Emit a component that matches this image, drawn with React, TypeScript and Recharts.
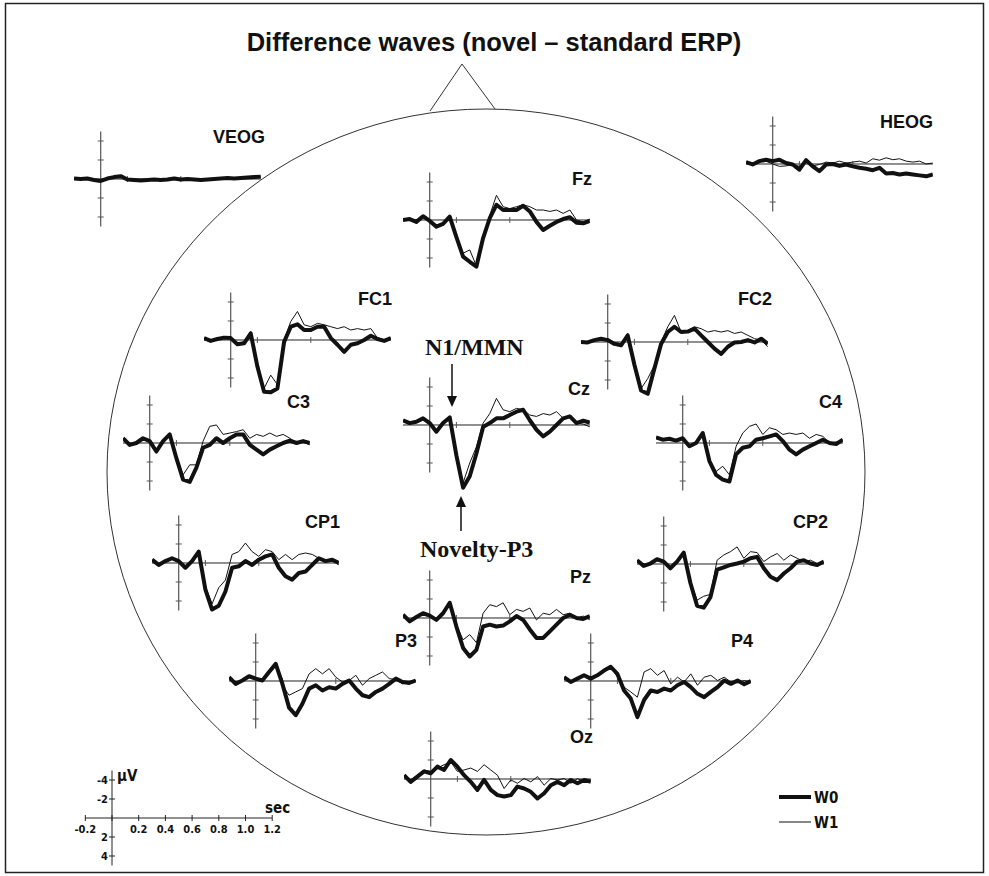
import React from "react";
import { LineChart, Line, XAxis, YAxis, ReferenceLine } from "recharts";

// time base in seconds, one sample every 50 ms
const TIME = [-0.2, -0.15, -0.1, -0.05, 0, 0.05, 0.1, 0.15, 0.2, 0.25, 0.3, 0.35, 0.4, 0.45, 0.5, 0.55, 0.6, 0.65, 0.7, 0.75, 0.8, 0.85, 0.9, 0.95, 1.0, 1.05, 1.1, 1.15, 1.2];

// amplitudes in µV (negative plotted up)
const VEOG_W0 = [-0.05, 0, -0.05, 0.1, 0.2, -0.05, -0.2, -0.3, 0.05, 0.1, 0.15, 0.1, 0.05, 0.1, 0.05, -0.05, 0.05, 0, 0.05, 0.1, 0.05, 0, -0.05, -0.1, -0.05, -0.1, -0.15, -0.2, -0.25];
const VEOG_W1 = [0, 0.05, -0.05, 0.05, 0.15, 0, -0.15, -0.25, 0, 0.1, 0.1, 0.15, 0, 0.05, 0.1, 0, 0, 0.05, 0, 0.05, 0.1, 0, 0, -0.05, -0.1, -0.05, -0.1, -0.15, -0.2];
const HEOG_W0 = [-0.2, 0.05, -0.3, -0.45, -0.3, -0.45, -0.1, 0.05, 0.6, -0.4, 0.25, 0.75, 0.05, 0, 0.2, 0.05, 0.25, 0.4, 0.5, 0.65, 0.4, 1, 0.95, 1.1, 1, 1.1, 1.2, 1.3, 1.1];
const HEOG_W1 = [-0.2, 0, -0.25, -0.3, 0, 0.25, 0.2, 0.05, 0.25, -0.3, 0.2, 0.05, -0.2, -0.1, -0.3, -0.1, -0.2, -0.3, -0.1, -0.55, -0.4, -0.65, -0.45, -0.55, -0.3, -0.2, -0.3, 0, -0.1];
const FZ_W0 = [0, -0.1, 0.2, -0.4, 0.1, 0.7, 0.4, -0.35, 1.8, 3.85, 4.4, 4.9, 1.9, -0.2, -1.6, -1.05, -1.05, -1.05, -1.5, -0.9, 0.2, 1.05, 0.6, 0.2, -0.1, -0.3, 0.3, 0.35, 0.1];
const FZ_W1 = [0.05, -0.15, 0.15, -0.35, 0.05, 0.6, 0.35, -0.4, 1.6, 3.5, 3.15, 4.85, 1.75, -0.5, -2.6, -1.4, -1.2, -1.4, -1.6, -1.4, -1.05, -1.05, -0.9, -1.05, -0.7, -1.05, 0, 0.2, -0.1];
const FC1_W0 = [-0.2, 0.1, -0.1, -0.25, -0.2, 0.45, 0.35, -0.7, 2.8, 5.45, 5.5, 5.1, 0.2, -1.4, -1.65, -1.05, -1.05, -1.4, -1.4, -0.2, 0.5, 1.25, 0.5, 0.35, 0, -0.45, -0.1, 0.1, -0.2];
const FC1_W1 = [-0.2, 0.05, -0.2, -0.2, -0.25, 0.35, 0.2, -0.9, 2.5, 5.1, 3.7, 4.7, 0, -1.95, -3, -1.6, -1.4, -1.75, -1.6, -1.4, -1.2, -1.4, -1.05, -1.2, -1.05, -1.2, -0.2, 0, -0.2];
const FC2_W0 = [0, 0.05, -0.2, -0.35, -0.2, 0.2, 0.35, -0.7, 2.4, 5.1, 5.45, 2.8, 0.2, -1.05, -1.6, -1.05, -1.1, -1.4, -0.7, 0, 0.7, 1.25, 0.5, 0.05, 0, -0.2, 0.05, -0.35, 0.2];
const FC2_W1 = [-0.05, 0, -0.25, -0.3, -0.35, 0.05, 0.2, -0.9, 2.2, 4.9, 3.85, 2.45, 0, -1.6, -2.8, -1.05, -1.2, -1.6, -1.4, -1.05, -1.2, -1.05, -1.2, -0.9, -1.05, -0.7, -0.35, -0.2, 0.5];
const C3_W0 = [-0.5, 0.2, 0, -0.5, -0.2, 0.9, -0.2, -0.9, 1.6, 3.85, 4.1, 2.6, 0.5, 0.2, -0.5, 0, -0.5, -0.9, -0.9, 0.2, 0.7, 1.2, 0.7, 0.35, 0, -0.25, 0, -0.2, 0];
const C3_W1 = [-0.45, 0.15, 0.05, -0.45, -0.25, 0.8, -0.25, -1, 1.4, 3.35, 2.3, 2.3, -0.2, -1.75, -1.9, -0.9, -1.05, -1.2, -1.4, -0.5, -0.9, -0.7, -1.05, -0.7, -0.9, -0.5, 0, -0.1, 0.2];
const CZ_W0 = [-0.5, -0.2, -0.35, -0.7, -0.2, 0.7, -0.2, -0.8, 3.2, 6.6, 5.4, 3.0, 0.2, -0.2, -0.7, -0.7, -1.05, -1.4, -1.6, -0.5, 0.5, 1.2, 0.7, 0, -0.7, -0.9, -0.2, -0.45, -0.25];
const CZ_W1 = [-0.45, -0.25, -0.3, -0.65, -0.25, 0.6, -0.25, -0.9, 3.0, 6.1, 4.0, 2.3, -0.2, -1.2, -2.8, -1.6, -1.4, -1.75, -1.6, -1.05, -0.9, -1.2, -1.05, -1.4, -0.7, -1.05, -0.2, -0.1, 0.2];
const C4_W0 = [-0.6, -0.35, -0.45, -0.25, -0.5, 0.35, 0, -1.05, 1.9, 3.35, 3.85, 4.05, 1.2, 0.5, 0.35, -0.35, -0.5, -0.7, -0.9, -0.2, 0.7, 1.2, 0.7, 0.35, 0, -0.35, 0, 0.1, -0.35];
const C4_W1 = [-0.55, -0.4, -0.4, -0.3, -0.45, 0.3, -0.05, -1.1, 1.75, 3, 2.45, 3.35, 0.35, -1.05, -1.75, -2, -0.9, -1.6, -1.4, -0.9, -1.05, -0.9, -1.05, -0.5, -0.9, -0.7, 0, -0.1, -0.2];
const CP1_W0 = [-0.35, 0.2, -0.2, -0.5, -0.2, 0.5, -0.2, -1.2, 2.8, 4.9, 4.5, 3.0, 0.5, 0.35, -0.2, 0.2, -0.35, -0.7, -0.9, 0.5, 1.4, 1.75, 1.05, 0.9, 0.2, -0.5, -0.2, -0.35, 0];
const CP1_W1 = [-0.3, 0.15, -0.25, -0.45, -0.25, 0.45, -0.25, -1.3, 2.45, 4.3, 2.6, 1.8, -0.9, -1.2, -2.1, -1.2, -0.7, -1.4, -1.2, -0.35, -0.9, -0.35, -0.9, -1.05, -0.9, -0.5, -0.2, -0.35, 0.2];
const CP2_W0 = [-0.4, 0.2, -0.05, -0.5, -0.25, 0.45, -0.25, -1.2, 2.0, 4.4, 4.6, 3.5, 0.6, 0.35, 0.1, -0.05, -0.25, -0.6, -0.75, 0.45, 1.35, 1.7, 1, 0.45, -0.25, -0.4, -0.05, 0.1, -0.25];
const CP2_W1 = [-0.35, 0.15, -0.1, -0.45, -0.3, 0.4, -0.3, -1.3, 1.8, 3.8, 3.4, 3.2, -0.4, -0.95, -1.3, -1.8, -0.6, -1.3, -1.2, -0.25, -0.75, -1.1, -0.4, -0.95, -0.6, -0.25, -0.4, -0.05, -0.15];
const PZ_W0 = [-0.35, 0.35, -0.1, -0.5, -0.25, 0.2, -0.5, -1.6, 0.9, 3.15, 4.05, 3.35, 0.9, 0.7, 0.9, 0.8, 0.35, -0.2, 0.2, 1.2, 2.1, 2.1, 1.4, 0.7, 0, -0.35, 0, 0.1, -0.2];
const PZ_W1 = [-0.3, 0.3, -0.15, -0.45, -0.3, 0.15, -0.55, -1.7, 0.7, 2.3, 1.75, 2.6, -0.5, -1.4, -1.2, -1.6, -0.35, -0.9, -0.7, -1.05, 0.2, -0.5, -0.35, -0.9, -0.35, -0.5, 0, -0.2, 0.2];
const P3_W0 = [-0.4, 0.3, -0.05, -0.5, -0.25, -0.05, -0.95, -1.8, 0.3, 2.8, 3.6, 2.4, 0.8, 0.45, 1, 0.65, 0.8, 0.3, -0.05, 0.8, 1.5, 1.7, 1.15, 0.8, 0.3, -0.25, 0.1, 0.2, -0.05];
const P3_W1 = [-0.35, 0.25, -0.1, -0.45, -0.3, -0.1, -1, -1.9, 0.45, 1.5, 1.15, 0.8, -0.75, -1.3, -0.75, -1.3, -0.4, 0.1, -0.05, -0.6, 0.45, -0.25, -0.6, -0.95, -0.25, -0.15, 0.3, 0.1, -0.05];
const P4_W0 = [-0.4, 0.1, -0.25, -0.6, -0.25, -0.6, -1.1, -1.5, -0.75, 1, 1.85, 3.8, 2.0, 1, 1.15, 0.8, 1, 0.45, 0.1, 0.65, 1.35, 1.7, 1.15, 0.65, -0.05, 0.3, -0.05, 0.35, 0];
const P4_W1 = [-0.35, 0.05, -0.2, -0.55, -0.3, -0.55, -1.15, -1.6, -0.4, 0.65, 1.15, 1.7, -0.95, -1.3, -0.6, -1.1, 0.3, -0.4, 0.1, -0.75, 0.45, -0.4, -0.6, -0.05, -0.4, 0.1, 0.2, -0.05, 0.1];
const OZ_W0 = [-0.4, 0.3, -0.25, -0.8, -0.6, -1.3, -0.95, -2, -1.3, -0.4, 0.3, 1.15, 0.1, 1.15, 1.7, 1.85, 1.7, 0.8, 1, 1.35, 2.05, 1.5, 0.65, 0.3, 0.65, 0.1, 0.45, 0.1, 0.3];
const OZ_W1 = [-0.3, 0.1, -0.4, -0.95, -0.8, -1.15, -1.5, -1.8, -0.8, -0.95, -1.15, -0.8, -1.5, -0.95, -0.4, 1, 0.1, 0.45, -0.05, 0.3, -0.25, 0.65, -0.05, 0.1, -0.05, 0.45, -0.05, 0.3, 0.1];

const AXIS_TICKS = [-4, -2, 2, 4];
const BASE_TICKS = [0.2, 0.6];
const SCALE_X_TICKS = [-0.2, 0, 0.2, 0.4, 0.6, 0.8, 1.0, 1.2];
const SCALE_X_LABELS = ["-0.2", "", "0.2", "0.4", "0.6", "0.8", "1.0", "1.2"];
const SCALE_Y_TICKS = [-4, -2, 2, 4];
const SCALE_Y_LABELS = ["-4", "-2", "2", "4"];

const PX_SEC = 133.5;
const PX_UV = 9.5;
const Y_MIN = -6;
const Y_MAX = 7.2;
const PAD = 5;
const SANS = "'Liberation Sans', Arial, sans-serif";
const NARROW = "'Liberation Sans Narrow', 'DejaVu Sans Condensed', sans-serif";
const SERIF = "'Liberation Serif', 'Times New Roman', serif";

const PLOTS = [
  { name: "VEOG", ox: 101, oy: 179, w0: VEOG_W0, w1: VEOG_W1, lx: 265, ly: 143 },
  { name: "HEOG", ox: 773, oy: 164, w0: HEOG_W0, w1: HEOG_W1, lx: 933, ly: 128 },
  { name: "Fz", ox: 430, oy: 220, w0: FZ_W0, w1: FZ_W1, lx: 592, ly: 185 },
  { name: "FC1", ox: 231, oy: 340, w0: FC1_W0, w1: FC1_W1, lx: 392, ly: 305 },
  { name: "FC2", ox: 608, oy: 342, w0: FC2_W0, w1: FC2_W1, lx: 772, ly: 305 },
  { name: "C3", ox: 150, oy: 443, w0: C3_W0, w1: C3_W1, lx: 310, ly: 408 },
  { name: "Cz", ox: 430, oy: 425, w0: CZ_W0, w1: CZ_W1, lx: 590, ly: 395 },
  { name: "C4", ox: 683, oy: 443, w0: C4_W0, w1: C4_W1, lx: 842, ly: 408 },
  { name: "CP1", ox: 179, oy: 563, w0: CP1_W0, w1: CP1_W1, lx: 340, ly: 528 },
  { name: "CP2", ox: 664, oy: 564, w0: CP2_W0, w1: CP2_W1, lx: 828, ly: 528 },
  { name: "Pz", ox: 430, oy: 618, w0: PZ_W0, w1: PZ_W1, lx: 591, ly: 583 },
  { name: "P3", ox: 256, oy: 681, w0: P3_W0, w1: P3_W1, lx: 417, ly: 647 },
  { name: "P4", ox: 591, oy: 681, w0: P4_W0, w1: P4_W1, lx: 753, ly: 647 },
  { name: "Oz", ox: 431, oy: 779, w0: OZ_W0, w1: OZ_W1, lx: 593, ly: 743 },
];

type WaveProps = { ox: number; oy: number; w0: number[]; w1: number[] };

function WavePlot({ ox, oy, w0, w1 }: WaveProps) {
  const data = TIME.map((t, i) => ({ t, w0: w0[i], w1: w1[i] }));
  const w = 1.4 * PX_SEC + PAD * 2;
  const h = (Y_MAX - Y_MIN) * PX_UV + PAD * 2;
  const tx = 3 / PX_SEC;
  const ty = 3 / PX_UV;
  return (
    <div style={{ position: "absolute", left: ox - 0.2 * PX_SEC - PAD, top: oy + Y_MIN * PX_UV - PAD }}>
      <LineChart width={w} height={h} data={data} margin={{ top: PAD, right: PAD, bottom: PAD, left: PAD }}>
        <XAxis type="number" dataKey="t" domain={[-0.2, 1.2]} hide allowDataOverflow />
        <YAxis type="number" domain={[Y_MIN, Y_MAX]} reversed hide allowDataOverflow />
        <ReferenceLine y={0} stroke="#222" strokeWidth={1} />
        <ReferenceLine segment={[{ x: 0, y: -5 }, { x: 0, y: 5 }]} stroke="#555" strokeWidth={1.2} />
        {AXIS_TICKS.map((v) => (
          <ReferenceLine key={"y" + v} segment={[{ x: -tx, y: v }, { x: tx, y: v }]} stroke="#555" strokeWidth={1} />
        ))}
        {BASE_TICKS.map((v) => (
          <ReferenceLine key={"x" + v} segment={[{ x: v, y: -ty }, { x: v, y: ty }]} stroke="#555" strokeWidth={1} />
        ))}
        <Line type="linear" dataKey="w0" stroke="#111" strokeWidth={4} strokeLinejoin="round" dot={false} isAnimationActive={false} />
        <Line type="linear" dataKey="w1" stroke="#111" strokeWidth={1} dot={false} isAnimationActive={false} />
      </LineChart>
    </div>
  );
}

// scale legend, bottom left
const SC_OX = 112;
const SC_OY = 818;

export default function App() {
  return (
    <div style={{ position: "fixed", left: 0, top: 0, width: 989, height: 876, background: "#fff", overflow: "hidden" }}>
      <svg width={989} height={876} style={{ position: "absolute", left: 0, top: 0 }}>
        <rect x={5.5} y={3.5} width={978} height={869} fill="none" stroke="#222" strokeWidth={1.5} />
        <text x={494} y={51} textAnchor="middle" fontFamily={SANS} fontWeight="bold" fontSize={25.5} fill="#111">
          Difference waves (novel – standard ERP)
        </text>
        <ellipse cx={486} cy={472} rx={379} ry={363} fill="none" stroke="#333" strokeWidth={1} />
        <polyline points="430,111 462,64 495,109" fill="none" stroke="#333" strokeWidth={1} />
        {PLOTS.map((p) => (
          <text key={p.name} x={p.lx} y={p.ly} textAnchor="end" fontFamily={SANS} fontWeight="bold" fontSize={18} fill="#111">
            {p.name}
          </text>
        ))}
        <text x={425} y={355} fontFamily={SERIF} fontWeight="bold" fontSize={24} fill="#111">N1/MMN</text>
        <line x1={452} y1={364} x2={452} y2={398} stroke="#111" strokeWidth={1.5} />
        <polygon points="447,396 457,396 452,407" fill="#111" />
        <text x={420} y={557} fontFamily={SERIF} fontWeight="bold" fontSize={24} fill="#111">Novelty-P3</text>
        <line x1={461} y1={531} x2={461} y2={505} stroke="#111" strokeWidth={1.5} />
        <polygon points="456,507 466,507 461,496" fill="#111" />

        {/* scale */}
        <line x1={SC_OX - 0.2 * PX_SEC} y1={SC_OY} x2={SC_OX + 1.2 * PX_SEC} y2={SC_OY} stroke="#222" strokeWidth={1} />
        <line x1={SC_OX} y1={SC_OY - 5 * PX_UV} x2={SC_OX} y2={SC_OY + 5 * PX_UV} stroke="#222" strokeWidth={1} />
        {SCALE_X_TICKS.map((t, i) => (
          <g key={"sx" + t}>
            <line x1={SC_OX + t * PX_SEC} y1={SC_OY - 3} x2={SC_OX + t * PX_SEC} y2={SC_OY + 3} stroke="#222" />
            <text x={SC_OX + t * PX_SEC} y={SC_OY + 15} textAnchor="middle" fontFamily={NARROW} fontWeight="bold" fontSize={11} fill="#111">
              {SCALE_X_LABELS[i]}
            </text>
          </g>
        ))}
        {SCALE_Y_TICKS.map((v, i) => (
          <g key={"sy" + v}>
            <line x1={SC_OX - 3} y1={SC_OY + v * PX_UV} x2={SC_OX + 3} y2={SC_OY + v * PX_UV} stroke="#222" />
            <text x={SC_OX - 4} y={SC_OY + v * PX_UV + 4} textAnchor="end" fontFamily={NARROW} fontWeight="bold" fontSize={11} fill="#111">
              {SCALE_Y_LABELS[i]}
            </text>
          </g>
        ))}
        <text x={117} y={781} fontFamily={NARROW} fontWeight="bold" fontSize={15} fill="#111">µV</text>
        <text x={265} y={813} fontFamily={NARROW} fontWeight="bold" fontSize={15} fill="#111">sec</text>

        {/* legend */}
        <line x1={779} y1={797} x2={811} y2={797} stroke="#111" strokeWidth={4} />
        <text x={814} y={803} fontFamily={NARROW} fontWeight="bold" fontSize={15} fill="#111">W0</text>
        <line x1={779} y1={822} x2={811} y2={822} stroke="#111" strokeWidth={1} />
        <text x={814} y={828} fontFamily={NARROW} fontWeight="bold" fontSize={15} fill="#111">W1</text>
      </svg>
      {PLOTS.map((p) => (
        <WavePlot key={p.name} ox={p.ox} oy={p.oy} w0={p.w0} w1={p.w1} />
      ))}
    </div>
  );
}
